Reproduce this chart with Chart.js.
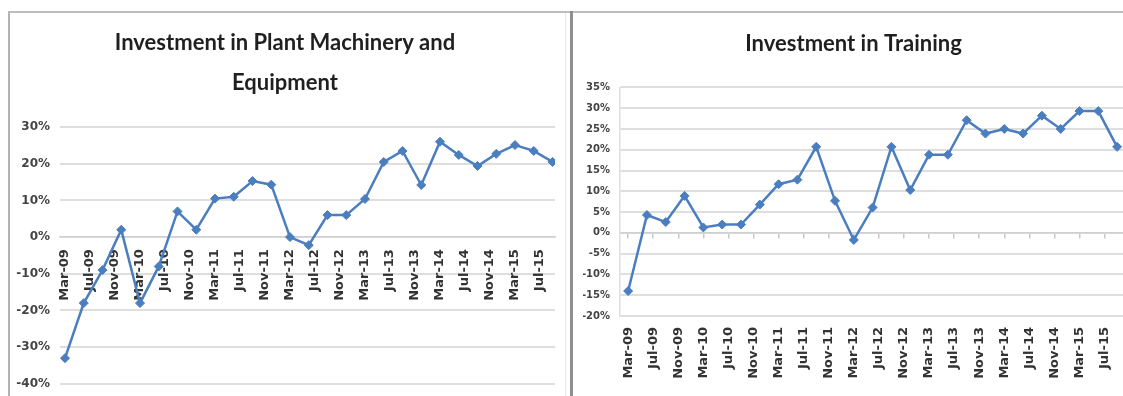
<!DOCTYPE html>
<html>
<head>
<meta charset="utf-8">
<title>Investment charts</title>
<script src="https://cdn.jsdelivr.net/npm/chart.js@4.4.1/dist/chart.umd.min.js"></script>
<style>
  html, body { margin: 0; padding: 0; background: #fff; }
  body { width: 1123px; height: 396px; position: relative; overflow: hidden; }
  .line { position: absolute; }
  canvas { position: absolute; top: 0; }
</style>
</head>
<body>
<div class="line" style="left:8px;top:11px;width:2px;height:385px;background:#b3b3b3"></div>
<div class="line" style="left:8px;top:11px;width:562px;height:2px;background:#bdbdbd"></div>
<div class="line" style="left:565px;top:13px;width:1px;height:383px;background:#e8e8e8"></div>
<div class="line" style="left:570px;top:11px;width:3px;height:385px;background:#8f8f8f"></div>
<div class="line" style="left:573px;top:11px;width:550px;height:2px;background:#bdbdbd"></div>

<canvas id="machineryChart" width="560" height="401" style="left:10px;width:560px;height:401px"></canvas>
<canvas id="trainingChart" width="564" height="396" style="left:573px;width:564px;height:396px"></canvas>

<script>
document.addEventListener('DOMContentLoaded', function () {

    // quarterly observations
    var quarters = ["Mar-09", "Jun-09", "Sep-09", "Dec-09", "Mar-10", "Jun-10", "Sep-10", "Dec-10",
        "Mar-11", "Jun-11", "Sep-11", "Dec-11", "Mar-12", "Jun-12", "Sep-12", "Dec-12",
        "Mar-13", "Jun-13", "Sep-13", "Dec-13", "Mar-14", "Jun-14", "Sep-14", "Dec-14",
        "Mar-15", "Jun-15", "Sep-15"];

    var machinery = [-33, -18, -9, 2, -18, -8, 7, 2, 10.5, 11, 15.3, 14.3, 0, -2.2, 6, 6,
        10.4, 20.5, 23.5, 14.2, 26, 22.4, 19.4, 22.7, 25.1, 23.5, 20.5];

    var training = [-14, 4.3, 2.6, 8.9, 1.3, 2, 2, 6.8, 11.7, 12.8, 20.7, 7.7, -1.7, 6.1, 20.7, 10.3,
        18.8, 18.8, 27.1, 23.9, 25, 23.9, 28.2, 25, 29.3, 29.3, 20.7];

    // axis labels, every four months
    var tickLabels = ["Mar-09", "Jul-09", "Nov-09", "Mar-10", "Jul-10", "Nov-10", "Mar-11", "Jul-11",
        "Nov-11", "Mar-12", "Jul-12", "Nov-12", "Mar-13", "Jul-13", "Nov-13", "Mar-14",
        "Jul-14", "Nov-14", "Mar-15", "Jul-15"];

    var months = ["Jan", "Feb", "Mar", "Apr", "May", "Jun", "Jul", "Aug", "Sep", "Oct", "Nov", "Dec"];

    // month number counted from the first label
    function monthIndex(label) {
        var parts = label.split('-');
        var first = tickLabels[0].split('-');
        return (parseInt(parts[1], 10) - parseInt(first[1], 10)) * 12 +
            months.indexOf(parts[0]) - months.indexOf(first[0]);
    }

    function points(values) {
        return quarters.map(function (q, i) {
            return { x: monthIndex(q), y: values[i] };
        });
    }

    function setDateTicks(scale) {
        scale.ticks = tickLabels.map(function (l) { return { value: monthIndex(l), label: l }; });
    }

    function dateLabel(value) {
        var i = tickLabels.findIndex(function (l) { return monthIndex(l) === value; });
        return i < 0 ? '' : tickLabels[i];
    }

    var blue = '#4a7ebf';
    var gridColor = '#dedede';
    var tickFont = { family: 'DejaVu Sans', weight: 'bold', size: 13 };
    var yFont = { family: 'DejaVu Sans', weight: 'bold', size: 12 };

    function dataset(values) {
        return {
            data: points(values),
            borderColor: blue,
            backgroundColor: blue,
            borderWidth: 2.5,
            pointStyle: 'rectRot',
            pointRadius: 4.5,
            pointBorderWidth: 1,
            tension: 0
        };
    }

    new Chart(document.getElementById('machineryChart'), {
        type: 'line',
        data: { datasets: [dataset(machinery)] },
        options: {
            responsive: false,
            animation: false,
            events: [],
            layout: { padding: { left: 5, right: 15, top: 0, bottom: 8 } },
            plugins: {
                legend: { display: false },
                tooltip: { enabled: false },
                title: {
                    display: true,
                    text: ['Investment in Plant Machinery and', 'Equipment'],
                    color: '#1f1f1f',
                    font: { family: 'Lato', weight: 'bold', size: 22, lineHeight: 1.82 },
                    padding: { top: 23, bottom: 24 }
                }
            },
            scales: {
                x: {
                    type: 'linear',
                    position: { y: 0 },
                    min: -0.8,
                    max: 78.4,
                    afterFit: function (s) { s.height = 0; },
                    afterBuildTicks: setDateTicks,
                    grid: { display: false, drawTicks: false },
                    border: { display: true, color: '#d0d0d0', width: 1.5 },
                    ticks: {
                        autoSkip: false,
                        minRotation: 90,
                        maxRotation: 90,
                        padding: 12,
                        color: '#333',
                        font: tickFont,
                        callback: dateLabel
                    }
                },
                y: {
                    min: -40,
                    max: 30,
                    afterFit: function (s) { s.width = 45; },
                    grid: { color: gridColor, lineWidth: 2, drawTicks: false },
                    border: { display: false },
                    ticks: {
                        stepSize: 10,
                        padding: 10,
                        color: '#444',
                        font: yFont,
                        callback: function (v) { return v + '%'; }
                    }
                }
            }
        }
    });

    new Chart(document.getElementById('trainingChart'), {
        type: 'line',
        data: { datasets: [dataset(training)] },
        options: {
            responsive: false,
            animation: false,
            events: [],
            layout: { padding: { left: 10, right: 13, top: 0, bottom: 0 } },
            plugins: {
                legend: { display: false },
                tooltip: { enabled: false },
                title: {
                    display: true,
                    text: 'Investment in Training',
                    color: '#1f1f1f',
                    font: { family: 'Lato', weight: 'bold', size: 22, lineHeight: 1.2 },
                    padding: { top: 31, bottom: 30 }
                }
            },
            scales: {
                x: {
                    type: 'linear',
                    position: 'bottom',
                    min: -1.3,
                    max: 79.1,
                    afterFit: function (s) { s.height = 80; },
                    afterBuildTicks: setDateTicks,
                    grid: { display: false, drawTicks: false },
                    border: { display: false },
                    ticks: {
                        autoSkip: false,
                        minRotation: 90,
                        maxRotation: 90,
                        padding: 11,
                        color: '#333',
                        font: tickFont,
                        callback: dateLabel
                    }
                },
                // small tick marks along the zero line
                x2: {
                    type: 'linear',
                    axis: 'x',
                    position: { y: 0 },
                    min: -1.3,
                    max: 79.1,
                    afterFit: function (s) { s.height = 0; },
                    afterBuildTicks: setDateTicks,
                    grid: { drawOnChartArea: false, drawTicks: true, tickLength: 5, color: '#c8c8c8', lineWidth: 1.5 },
                    border: { display: true, color: '#d0d0d0', width: 1.5 },
                    ticks: { display: false }
                },
                y: {
                    min: -20,
                    max: 35,
                    afterFit: function (s) { s.width = 37; },
                    grid: { color: gridColor, lineWidth: 2, drawTicks: false },
                    border: { display: true, color: gridColor, width: 1.5 },
                    ticks: {
                        stepSize: 5,
                        padding: 10,
                        color: '#444',
                        font: { family: 'DejaVu Sans', weight: 'bold', size: 10 },
                        callback: function (v) { return v + '%'; }
                    }
                }
            }
        }
    });
});
</script>
</body>
</html>
